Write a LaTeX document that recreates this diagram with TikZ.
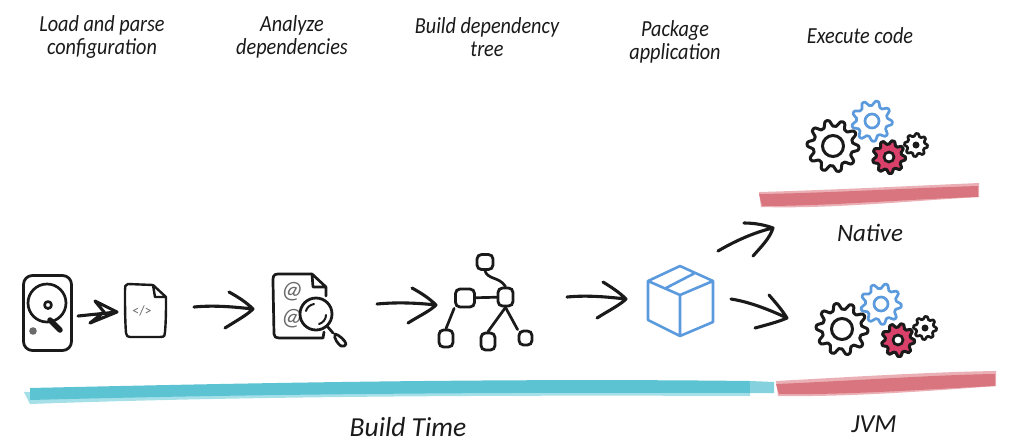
\documentclass[tikz,border=0pt]{standalone}
\usepackage{fontspec}
\setmainfont{Carlito}
\newfontfamily\handnarrow[FakeStretch=0.88]{Carlito}
\usetikzlibrary{arrows.meta,calc}
\definecolor{ink}{HTML}{1A1A1A}
\definecolor{blueline}{HTML}{5B9BDD}
\definecolor{gearred}{HTML}{D9406A}
\definecolor{cyanbar}{HTML}{5CC3D3}
\definecolor{cyanlight}{HTML}{A5E0E8}
\definecolor{redbar}{HTML}{D9757F}
\definecolor{redlight}{HTML}{EBB0B5}
\definecolor{grayink}{HTML}{6A6A6A}
\tikzset{
  sk/.style={draw=ink,line width=2.7pt,line cap=round,line join=round},
  skarrow/.style={draw=ink,line width=3.1pt,line cap=round,line join=round},
  treebox/.style={draw=ink,line width=2.8pt,rounded corners=4.5pt,fill=white,inner sep=0pt},
  head/.style={font=\handnarrow\itshape\fontsize{23}{23.5}\selectfont,align=center,text=ink,inner sep=0pt},
  tag/.style={font=\itshape\fontsize{27.5}{30}\selectfont,text=ink,inner sep=0pt},
}
% gear: centre x, y, outer radius, teeth, line colour, fill colour, line width
\newcommand{\mygear}[7]{%
  \pgfmathsetmacro{\gstep}{360/#4}%
  \pgfmathsetmacro{\gin}{#3*0.78}%
  \draw[draw=#5,fill=#6,line width=#7,line join=round]
    plot[smooth cycle,tension=0.55,samples at={0,...,\numexpr 4*#4-1\relax},variable=\k]
    ({#1+(mod(\k,4)<1.5 ? #3 : \gin)*cos(\k*\gstep/4)},{#2+(mod(\k,4)<1.5 ? #3 : \gin)*sin(\k*\gstep/4)});%
}
\newcommand{\mygears}[2]{%
  \mygear{#1+39}{#2-25}{20}{9}{blueline}{white}{2.7pt}
  \draw[blueline,line width=2.7pt] (#1+39,#2-25) circle (7);
  \mygear{#1}{#2}{25.5}{10}{ink}{white}{3pt}
  \draw[ink,line width=3pt] (#1,#2) circle (10.5);
  \mygear{#1+83}{#2-1}{11.5}{8}{ink}{white}{2.7pt}
  \fill[ink] (#1+83,#2-1) circle (3.5);
  \mygear{#1+56}{#2+11}{16.5}{9}{ink}{gearred}{3pt}
  \draw[ink,fill=white,line width=2.7pt] (#1+56,#2+11) circle (5);
}
\begin{document}
\begin{tikzpicture}[x=1pt,y=-1pt]
\useasboundingbox (0,0) rectangle (1024,445);
\fill[white] (0,0) rectangle (1024,445);

% headers
\node[head] (h1) at (102,37) {Load and parse\\configuration};
\node[head] (h2) at (292,37) {Analyze\\dependencies};
\node[head] (h3) at (487,37) {Build dependency\\tree};
\node[head] (h4) at (675,42) {Package\\application};
\node[head] (h5) at (860,36) {Execute code};

% bars
\fill[cyanlight] (24,392) -- (750,384) -- (750,396) .. controls (500,395) and (250,396) .. (30,404) -- cycle;
\fill[cyanbar] (30,388) .. controls (250,383) and (500,378) .. (750,381)
  -- (750,393) .. controls (500,392) and (250,394) .. (30,400) -- cycle;
\fill[cyanbar!75!white] (750,381) -- (774,382) -- (774,393) -- (750,393) -- cycle;

\fill[redlight] (776,381) .. controls (850,377) and (930,372) .. (996,371)
  -- (996,386) .. controls (930,391) and (850,397) .. (778,396) -- cycle;
\fill[redbar] (776,384) .. controls (850,381) and (930,375) .. (995,374)
  -- (995,386) .. controls (930,389) and (850,395) .. (779,394) -- cycle;

\fill[redlight] (759,192) .. controls (830,190) and (910,186) .. (979,183)
  -- (979,197) .. controls (910,201) and (830,209) .. (761,207) -- cycle;
\fill[redbar] (759,194) .. controls (830,193) and (910,188) .. (978,186)
  -- (978,197) .. controls (910,199) and (830,206) .. (762,206) -- cycle;

% hard disk
\node[draw=ink,line width=2.8pt,rounded corners=9pt,minimum width=48pt,minimum height=75pt,inner sep=0pt] (hdd) at (47.5,313) {};
\draw[sk] (47,303) circle (19);
\draw[sk] (48,305) circle (3.5);
\fill[grayink] (33,331) circle (3.8);
\draw[ink,line width=5.5pt,line cap=round] (50,320) -- (60,330);

% documents
\node[inner sep=0pt,minimum width=41pt,minimum height=53pt] (doc1) at (145.5,311) {};
\draw[sk,line width=2.4pt] (153,285) -- (128,284) .. controls (125,284) and (125,287) .. (125,290) .. controls (125,305) and (125,320) .. (126,333) .. controls (126,336) and (128,337) .. (130,337)
  -- (160,337) .. controls (165,337) and (165,335) .. (165,332) .. controls (166,320) and (166,310) .. (166,297) -- (153,285)
  -- (155,297) -- (166,297);
\node[text=grayink,font=\fontsize{14}{15}\selectfont,inner sep=0pt] (code) at (142,311) {</>};

\node[inner sep=0pt,minimum width=53pt,minimum height=65pt] (doc2) at (299.5,305.5) {};
\draw[sk] (312,274) -- (278,274) .. controls (273,274) and (273,277) .. (273,282)
  -- (274,334) .. controls (274,337) and (276,338) .. (279,338) -- (323,338) -- (324,332);
\draw[sk] (312,274) -- (326,287) -- (313,287) -- (312,274) (326,287) -- (326,296);
\node[text=grayink,rotate=-8,font=\itshape\fontsize{25}{26}\selectfont,inner sep=0pt] (at1) at (292,292) {@};
\node[text=grayink,rotate=-8,font=\itshape\fontsize{25}{26}\selectfont,inner sep=0pt] (at2) at (292,319) {@};
\draw[sk,fill=white,line width=2.8pt] (316,314) circle (16);
\draw[ink,line width=2pt,line cap=round] (306,311) .. controls (307,307) and (310,305) .. (314,304);
\draw[ink,line width=2pt,line cap=round] (326,315) .. controls (326,319) and (323,323) .. (319,324);
\draw[sk] (327,326) -- (333,333);
\draw[sk,fill=white] (335,334) .. controls (338,334) and (346,341) .. (346,344)
  .. controls (346,346) and (343,347) .. (341,346) .. controls (339,345) and (333,338) .. (335,334) -- cycle;

% tree
\node[treebox,minimum width=16pt,minimum height=15pt] (t0) at (485,262) {};
\node[treebox,minimum width=19pt,minimum height=18pt] (t1) at (465,298) {};
\node[treebox,minimum width=15pt,minimum height=18pt] (t2) at (505.5,297) {};
\node[treebox,minimum width=14pt,minimum height=17pt] (t3) at (446,338.5) {};
\node[treebox,minimum width=14pt,minimum height=17pt] (t4) at (488,341.5) {};
\node[treebox,minimum width=13pt,minimum height=14pt] (t5) at (525.5,338) {};
\draw[sk] (t0.south) .. controls +(3,9) and +(-6,-10) .. (t2.north);
\draw[sk] (t1) -- (t2);
\draw[sk] (t1.south west) -- (t3.north);
\draw[sk] (t2.south) -- (t4.north);
\draw[sk] (t2.south) -- (t5.north west);

% box
\node[inner sep=0pt,minimum width=65pt,minimum height=70pt] (box) at (680.5,301) {};
\draw[blueline,line width=2.6pt,line join=round]
  (680,266) -- (713,281) -- (713,322) -- (680,336) -- (648,320) -- (648,281) -- cycle
  (648,281) -- (680,295) -- (713,281) (680,295) -- (680,336)
  (695,273) -- (666,288);

% gears
\coordinate (g1) at (833,146);
\mygears{833}{146}
\coordinate (g2) at (842,329);
\mygears{842}{329}

% arrows: shaft from icon to icon, barbed head
\coordinate (a1s) at (78,316);   \coordinate (a1e) at (117,312);
\coordinate (a2s) at (194,307);  \coordinate (a2e) at (253,309);
\coordinate (a3s) at (377,304);  \coordinate (a3e) at (436,305);
\coordinate (a4s) at (567,297);  \coordinate (a4e) at (626,299);
\coordinate (a5s) at (718,251);  \coordinate (a5e) at (773,228);
\coordinate (a6s) at (731,299);  \coordinate (a6e) at (787,318);

\draw[skarrow] (a1s) -- (a1e) (95,301) -- (a1e) -- (90,323) (95,301) -- (104,312) -- (90,323);
\draw[skarrow] (a2s) .. controls (215,305) and (235,307) .. (a2e) (229,292) .. controls (238,297) and (246,302) .. (a2e) .. controls (247,315) and (236,321) .. (225,328);
\draw[skarrow] (a3s) .. controls (398,302) and (418,303) .. (a3e) (412,288) .. controls (421,293) and (429,298) .. (a3e) .. controls (430,311) and (419,316) .. (408,323);
\draw[skarrow] (a4s) .. controls (588,295) and (608,297) .. (a4e) (603,282) .. controls (611,287) and (619,292) .. (a4e) .. controls (620,305) and (608,311) .. (597,318);
\draw[skarrow] (a5s) .. controls (735,241) and (755,232) .. (a5e) (744,223) .. controls (755,223) and (765,225) .. (a5e) .. controls (770,238) and (761,247) .. (753,256);
\draw[skarrow] (a6s) .. controls (750,302) and (770,310) .. (a6e) (769,295) .. controls (776,303) and (782,310) .. (a6e) .. controls (778,322) and (766,325) .. (755,328);

% labels
\node[tag] (bt) at (408,427) {Build Time};
\node[tag,font=\itshape\fontsize{25}{28}\selectfont] (nat) at (870,233) {Native};
\node[tag,font=\itshape\fontsize{26}{28}\selectfont] (jvm) at (874,424) {JVM};
\end{tikzpicture}
\end{document}
